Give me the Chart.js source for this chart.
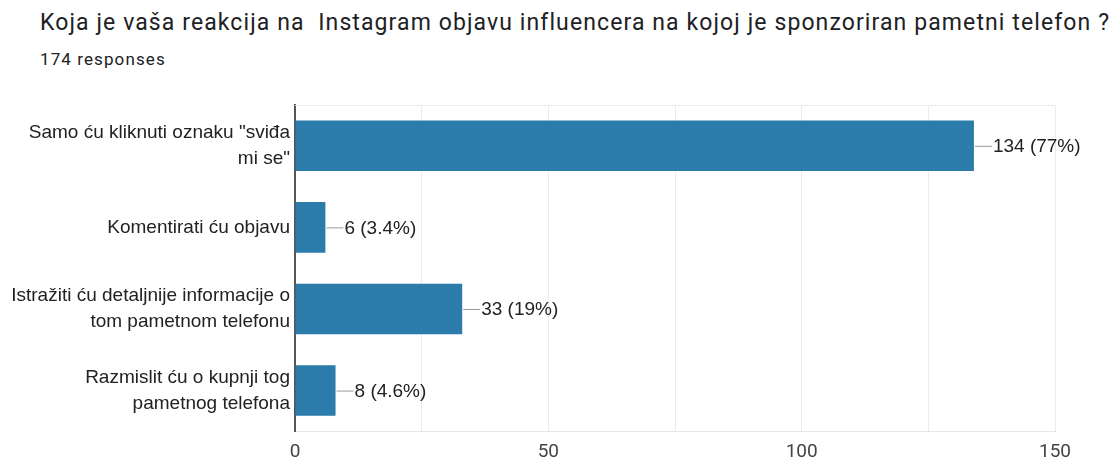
<!DOCTYPE html>
<html>
<head>
<meta charset="utf-8">
<script src="https://cdn.jsdelivr.net/npm/chart.js@4.4.1/dist/chart.umd.min.js"></script>
<style>
  html, body { margin: 0; padding: 0; background: #fff; }
  #wrap { position: relative; width: 1115px; height: 462px; }
  #title { position: absolute; left: 40px; top: 9px; font: 23px Roboto, sans-serif; letter-spacing: 1.1px; color: #202124; white-space: pre; }
  #sub { position: absolute; left: 40px; top: 49px; font: 17px Roboto, sans-serif; letter-spacing: 1.1px; color: #202124; }
  canvas { position: absolute; left: 0; top: 0; }
</style>
</head>
<body>
<div id="wrap">
  <div id="title">Koja je vaša reakcija na  Instagram objavu influencera na kojoj je sponzoriran pametni telefon ?</div>
  <div id="sub">174 responses</div>
  <canvas id="chart" width="1115" height="462"></canvas>
</div>
<script>
// answers and counts
const categories = [
    ['Samo ću kliknuti oznaku "sviđa', 'mi se"'],
    ['Komentirati ću objavu'],
    ['Istražiti ću detaljnije informacije o', 'tom pametnom telefonu'],
    ['Razmislit ću o kupnji tog', 'pametnog telefona']
];
const counts = [134, 6, 33, 8];
const totalResponses = 174;
const xTicks = [0, 50, 100, 150];

function pctLabel(v) {
    const p = v / totalResponses * 100;
    return v + ' (' + Number(p.toPrecision(2)) + '%)';
}

// connector line + value text at end of each bar
const valueLabels = {
    id: 'valueLabels',
    afterDatasetsDraw(chart) {
        const ctx = chart.ctx;
        const meta = chart.getDatasetMeta(0);
        ctx.save();
        ctx.font = '19px "Liberation Sans", Arial, sans-serif';
        ctx.textBaseline = 'middle';
        ctx.fillStyle = '#222';
        meta.data.forEach((bar, i) => {
            const x = bar.x, y = bar.y;
            ctx.strokeStyle = '#999';
            ctx.lineWidth = 1;
            ctx.beginPath();
            ctx.moveTo(x + 1, y + 0.5);
            ctx.lineTo(x + 18, y + 0.5);
            ctx.stroke();
            ctx.fillText(pctLabel(counts[i]), x + 19, y + 1);
        });
        ctx.restore();
    }
};

const topBorder = {
    id: 'topBorder',
    beforeDatasetsDraw(chart) {
        const a = chart.chartArea, ctx = chart.ctx;
        ctx.save();
        ctx.strokeStyle = '#ebebeb';
        ctx.lineWidth = 1;
        ctx.beginPath();
        ctx.moveTo(a.left, a.top + 0.5);
        ctx.lineTo(a.right, a.top + 0.5);
        ctx.stroke();
        ctx.restore();
    }
};

new Chart(document.getElementById('chart'), {
    type: 'bar',
    data: {
        labels: categories,
        datasets: [{
            data: counts,
            backgroundColor: '#2b7bab',
            barPercentage: 0.62,
            categoryPercentage: 1
        }]
    },
    options: {
        indexAxis: 'y',
        responsive: false,
        animation: false,
        layout: { padding: { top: 105, right: 60, bottom: 0, left: 0 } },
        plugins: { legend: { display: false }, tooltip: { enabled: false } },
        scales: {
            x: {
                min: 0,
                max: 150,
                afterFit: s => { s.height = 29; },
                afterBuildTicks: s => { s.ticks = [0, 25, 50, 75, 100, 125, 150].map(v => ({ value: v })); },
                ticks: {
                    padding: 9,
                    font: { family: 'Roboto', size: 19 },
                    color: '#444',
                    callback: v => xTicks.includes(v) ? v : ''
                },
                grid: { color: '#ebebeb', drawTicks: false },
                border: { color: '#e6e6e6', width: 1 }
            },
            y: {
                afterFit: s => { s.width = 295; },
                ticks: {
                    padding: 5,
                    font: { family: '"Liberation Sans", Arial, sans-serif', size: 19, lineHeight: 1.35 },
                    color: '#222'
                },
                grid: { display: false, drawTicks: false },
                border: { color: '#555', width: 2 }
            }
        }
    },
    plugins: [valueLabels, topBorder]
});
</script>
</body>
</html>
